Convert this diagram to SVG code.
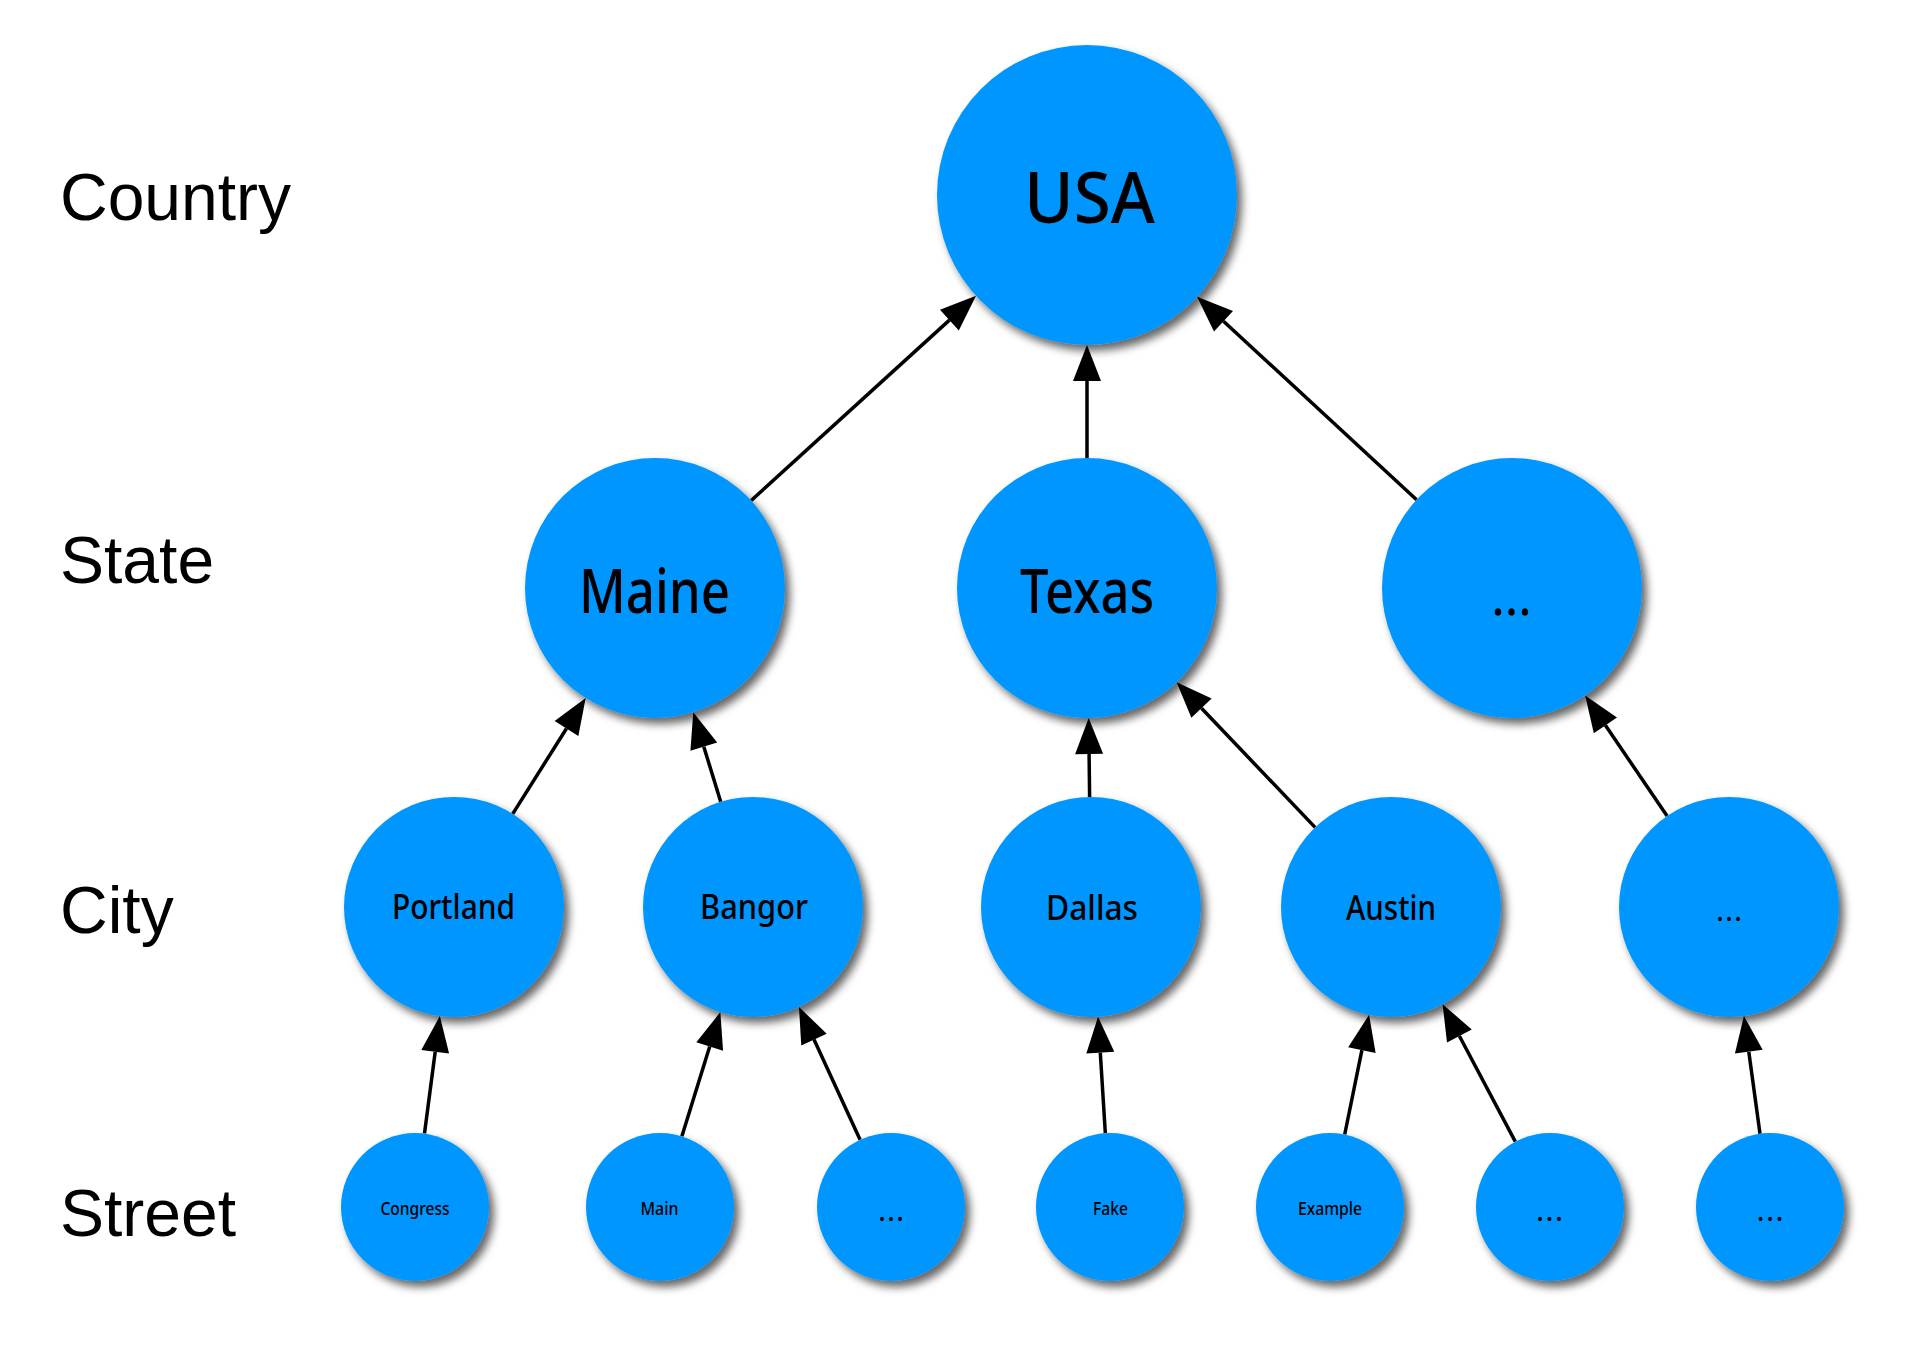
<svg xmlns="http://www.w3.org/2000/svg" width="1908" height="1349" viewBox="0 0 1908 1349">
<style>
.node{fill:#0096ff;filter:url(#sh)}
.lbl{font-family:"Noto Sans","Open Sans",sans-serif;font-weight:500;fill:#000;text-anchor:middle}
.dots{font-family:"Noto Sans","Open Sans",sans-serif;font-weight:400;fill:#000;text-anchor:middle}
.lvl{font-family:"Liberation Sans",Arial,sans-serif;font-size:66px;fill:#000}
.edge{stroke:#000;stroke-width:3.5;fill:none;marker-end:url(#ah)}
</style>
<defs>
<filter id="sh" x="-20%" y="-20%" width="150%" height="150%">
<feDropShadow dx="5" dy="6" stdDeviation="4" flood-color="#000" flood-opacity="0.6"/>
</filter>
<marker id="ah" markerUnits="userSpaceOnUse" markerWidth="36" markerHeight="28" refX="0" refY="14" orient="auto" overflow="visible">
<path d="M0,0 L36,14 L0,28 z" fill="#000"/>
</marker>
</defs>
<rect width="1908" height="1349" fill="#fff"/>
<g id="levels">
<text class="lvl" x="60" y="220">Country</text>
<text class="lvl" x="60" y="583">State</text>
<text class="lvl" x="60" y="933">City</text>
<text class="lvl" x="60" y="1236">Street</text>
</g>
<g id="connectors">
<line class="edge" x1="751.2" y1="500.5" x2="949.4" y2="320.1"/>
<line class="edge" x1="1087" y1="458" x2="1087" y2="381"/>
<line class="edge" x1="1416.6" y1="499.7" x2="1223.5" y2="321.2"/>
<line class="edge" x1="512.7" y1="813.9" x2="566.5" y2="728.5"/>
<line class="edge" x1="720.7" y1="801.8" x2="703.8" y2="746.7"/>
<line class="edge" x1="1089.6" y1="797" x2="1089.1" y2="754"/>
<line class="edge" x1="1315.1" y1="827.4" x2="1201.5" y2="708.2"/>
<line class="edge" x1="1667.1" y1="816" x2="1605.4" y2="725.3"/>
<line class="edge" x1="424.5" y1="1133.6" x2="435.2" y2="1051.8"/>
<line class="edge" x1="681.9" y1="1136.3" x2="709.7" y2="1046.5"/>
<line class="edge" x1="860.1" y1="1139.8" x2="814" y2="1039.6"/>
<line class="edge" x1="1105.3" y1="1133.1" x2="1100.3" y2="1052.7"/>
<line class="edge" x1="1344.7" y1="1134.5" x2="1361.9" y2="1050.1"/>
<line class="edge" x1="1515.3" y1="1141.6" x2="1459.4" y2="1036"/>
<line class="edge" x1="1760" y1="1133.7" x2="1748.8" y2="1051.7"/>
</g>
<g id="n-usa"><circle class="node" cx="1087" cy="195" r="150"/><text class="lbl" x="1089.5" y="223" font-size="71" textLength="131" lengthAdjust="spacingAndGlyphs">USA</text></g>
<g id="n-maine"><circle class="node" cx="655" cy="588" r="130"/><text class="lbl" x="654.5" y="613" font-size="61" textLength="151" lengthAdjust="spacingAndGlyphs">Maine</text></g>
<g id="n-texas"><circle class="node" cx="1087" cy="588" r="130"/><text class="lbl" x="1087" y="613" font-size="61" textLength="134" lengthAdjust="spacingAndGlyphs">Texas</text></g>
<g id="n-state-more"><circle class="node" cx="1512" cy="588" r="130"/><text class="dots" x="1511.5" y="615" font-size="52" textLength="41" lengthAdjust="spacing">...</text></g>
<g id="n-portland"><circle class="node" cx="454" cy="907" r="110"/><text class="lbl" x="453.5" y="919" font-size="34" textLength="123" lengthAdjust="spacingAndGlyphs">Portland</text></g>
<g id="n-bangor"><circle class="node" cx="753" cy="907" r="110"/><text class="lbl" x="754" y="919" font-size="34" textLength="108" lengthAdjust="spacingAndGlyphs">Bangor</text></g>
<g id="n-dallas"><circle class="node" cx="1091" cy="907" r="110"/><text class="lbl" x="1092" y="920" font-size="34" textLength="92" lengthAdjust="spacingAndGlyphs">Dallas</text></g>
<g id="n-austin"><circle class="node" cx="1391" cy="907" r="110"/><text class="lbl" x="1391" y="920" font-size="34" textLength="90" lengthAdjust="spacingAndGlyphs">Austin</text></g>
<g id="n-city-more"><circle class="node" cx="1729" cy="907" r="110"/><text class="dots" x="1729" y="921" font-size="30" textLength="26" lengthAdjust="spacing">...</text></g>
<g id="n-congress"><circle class="node" cx="415" cy="1207" r="74"/><text class="lbl" x="415" y="1215" font-size="18" textLength="69" lengthAdjust="spacingAndGlyphs">Congress</text></g>
<g id="n-main"><circle class="node" cx="660" cy="1207" r="74"/><text class="lbl" x="659.5" y="1215" font-size="18" textLength="38" lengthAdjust="spacingAndGlyphs">Main</text></g>
<g id="n-street-more1"><circle class="node" cx="891" cy="1207" r="74"/><text class="dots" x="891" y="1221" font-size="30" textLength="26" lengthAdjust="spacing">...</text></g>
<g id="n-fake"><circle class="node" cx="1110" cy="1207" r="74"/><text class="lbl" x="1110.5" y="1215" font-size="18" textLength="35" lengthAdjust="spacingAndGlyphs">Fake</text></g>
<g id="n-example"><circle class="node" cx="1330" cy="1207" r="74"/><text class="lbl" x="1330" y="1215" font-size="18" textLength="64" lengthAdjust="spacingAndGlyphs">Example</text></g>
<g id="n-street-more2"><circle class="node" cx="1550" cy="1207" r="74"/><text class="dots" x="1549.5" y="1221" font-size="30" textLength="27" lengthAdjust="spacing">...</text></g>
<g id="n-street-more3"><circle class="node" cx="1770" cy="1207" r="74"/><text class="dots" x="1770" y="1221" font-size="30" textLength="27" lengthAdjust="spacing">...</text></g>
</svg>
